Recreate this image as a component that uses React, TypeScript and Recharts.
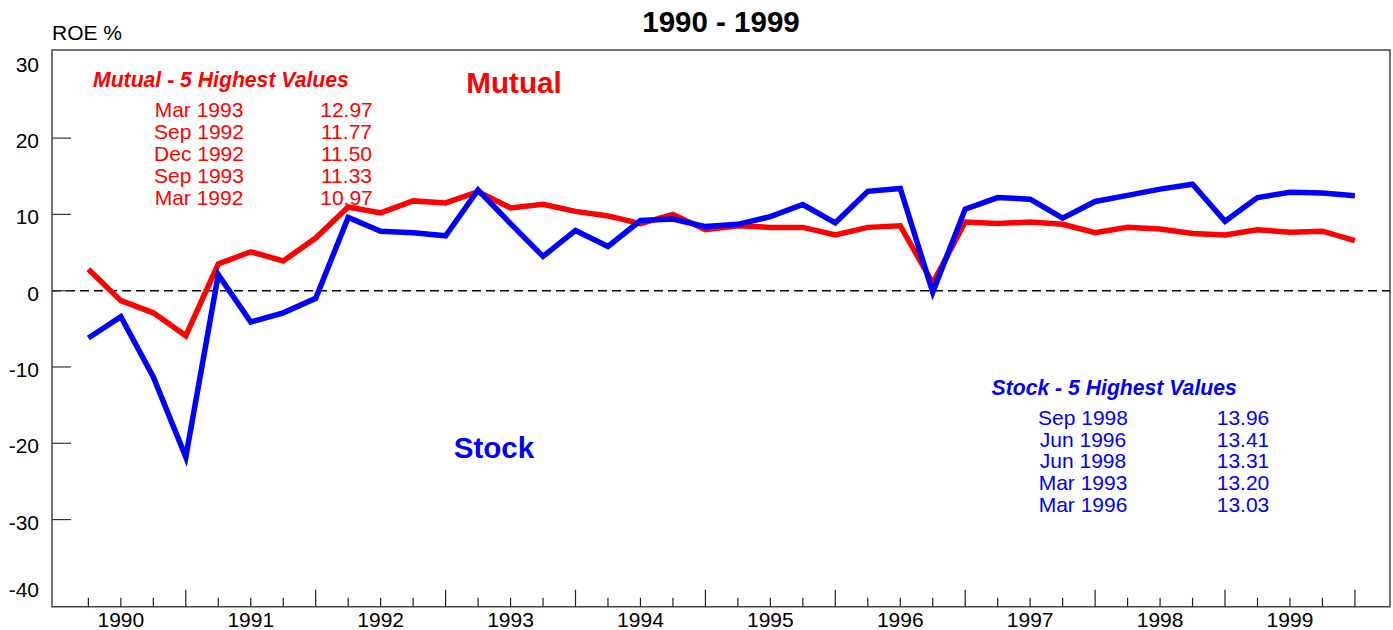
import { LineChart, Line, XAxis, YAxis, ReferenceLine, ReferenceArea } from 'recharts'

const quarters = [
  'Mar 1990', 'Jun 1990', 'Sep 1990', 'Dec 1990',
  'Mar 1991', 'Jun 1991', 'Sep 1991', 'Dec 1991',
  'Mar 1992', 'Jun 1992', 'Sep 1992', 'Dec 1992',
  'Mar 1993', 'Jun 1993', 'Sep 1993', 'Dec 1993',
  'Mar 1994', 'Jun 1994', 'Sep 1994', 'Dec 1994',
  'Mar 1995', 'Jun 1995', 'Sep 1995', 'Dec 1995',
  'Mar 1996', 'Jun 1996', 'Sep 1996', 'Dec 1996',
  'Mar 1997', 'Jun 1997', 'Sep 1997', 'Dec 1997',
  'Mar 1998', 'Jun 1998', 'Sep 1998', 'Dec 1998',
  'Mar 1999', 'Jun 1999', 'Sep 1999', 'Dec 1999',
]

const mutual = [
  2.8, -1.3, -2.9, -5.9, 3.5, 5.1, 3.9, 6.9,
  10.97, 10.2, 11.77, 11.5, 12.97, 10.85, 11.33, 10.4,
  9.8, 8.8, 10.0, 8.0, 8.5, 8.3, 8.3, 7.3,
  8.3, 8.5, 1.0, 9.0, 8.8, 9.0, 8.7, 7.6,
  8.3, 8.1, 7.5, 7.3, 8.0, 7.65, 7.8, 6.55,
]

const stock = [
  -6.2, -3.4, -11.3, -21.8, 2.1, -4.1, -2.9, -1.0,
  9.6, 7.8, 7.6, 7.2, 13.2, 8.8, 4.5, 7.9,
  5.8, 9.2, 9.4, 8.4, 8.7, 9.7, 11.3, 8.9,
  13.03, 13.41, -0.2, 10.7, 12.2, 12.0, 9.5, 11.7,
  12.5, 13.31, 13.96, 9.1, 12.2, 12.9, 12.8, 12.45,
]

const years = ['1990', '1991', '1992', '1993', '1994', '1995', '1996', '1997', '1998', '1999']
const yTicks = [-40, -30, -20, -10, 0, 10, 20, 30]

const mutualTop = [
  ['Mar 1993', '12.97'],
  ['Sep 1992', '11.77'],
  ['Dec 1992', '11.50'],
  ['Sep 1993', '11.33'],
  ['Mar 1992', '10.97'],
]
const stockTop = [
  ['Sep 1998', '13.96'],
  ['Jun 1996', '13.41'],
  ['Jun 1998', '13.31'],
  ['Mar 1993', '13.20'],
  ['Mar 1996', '13.03'],
]

const data = quarters.map((q, i) => ({ idx: i, quarter: q, mutual: mutual[i], stock: stock[i] }))

const X_MIN = -1.12
const X_MAX = 40.08
const Y_MIN = -41.42
const Y_MAX = 31.55
const FONT = '"Liberation Sans", Arial, sans-serif'

const XTick = (props: any) => {
  const { x, y, payload } = props
  const i = payload.value as number
  const long = i % 4 === 3
  return (
    <g>
      <line x1={x} x2={x} y1={y} y2={y - (long ? 17 : 9)} stroke="#222" strokeWidth={1.2} />
      {i % 4 === 1 && (
        <text x={x} y={y + 20} textAnchor="middle" fontSize={21} fill="#000" fontFamily={FONT}>
          {years[Math.floor(i / 4)]}
        </text>
      )}
    </g>
  )
}

const YTick = (props: any) => {
  const { x, y, payload } = props
  const v = payload.value as number
  const edge = v === 30 || v === -40
  return (
    <g>
      {!edge && <line x1={x} x2={x + 19} y1={y} y2={y} stroke="#333" strokeWidth={1.2} />}
      <text x={x - 13} y={v === -40 ? y + 1 : y + 10} textAnchor="end" fontSize={21} fill="#000" fontFamily={FONT}>
        {v}
      </text>
    </g>
  )
}

function TopList({ title, rows, color, x, y, dateX, valX, step }: any) {
  return (
    <g fill={color} fontFamily={FONT}>
      <text x={x} y={y} fontSize={21.2} fontWeight="bold" fontStyle="italic">{title}</text>
      {rows.map((r: string[], i: number) => (
        <g key={r[0]}>
          <text x={dateX} y={y + 30 + i * step} fontSize={21} textAnchor="middle">{r[0]}</text>
          <text x={valX} y={y + 30 + i * step} fontSize={21} textAnchor="middle">{r[1]}</text>
        </g>
      ))}
    </g>
  )
}

export default function App() {
  return (
    <div style={{ position: 'absolute', left: 0, top: 0, width: 1393, height: 630, background: '#fff', fontFamily: FONT }}>
      <LineChart width={1393} height={630} data={data} margin={{ top: 50, right: 3, bottom: 0, left: 0 }}>
        <XAxis
          type="number"
          dataKey="idx"
          domain={[X_MIN, X_MAX]}
          allowDataOverflow
          ticks={data.map((d) => d.idx)}
          interval={0}
          height={23.3}
          tickSize={0}
          tickMargin={0}
          axisLine={false}
          tickLine={false}
          tick={<XTick />}
        />
        <YAxis
          type="number"
          domain={[Y_MIN, Y_MAX]}
          allowDataOverflow
          ticks={yTicks}
          interval={0}
          width={52}
          tickSize={0}
          tickMargin={0}
          axisLine={false}
          tickLine={false}
          tick={<YTick />}
        />
        <ReferenceArea x1={X_MIN} x2={X_MAX} y1={Y_MIN} y2={Y_MAX} fill="none" stroke="#444" strokeWidth={1.5} />
        <ReferenceLine y={0} stroke="#000" strokeWidth={1.5} strokeDasharray="9 5" />
        <Line dataKey="mutual" stroke="#ff0000" strokeWidth={5.5} dot={false} isAnimationActive={false} />
        <Line dataKey="stock" stroke="#0000ff" strokeWidth={5.5} dot={false} isAnimationActive={false} />
      </LineChart>
      <svg width={1393} height={630} style={{ position: 'absolute', left: 0, top: 0, pointerEvents: 'none' }}>
        <text x={721} y={32} textAnchor="middle" fontSize={29.5} fontWeight="bold" fontFamily={FONT}>1990 - 1999</text>
        <text x={52} y={40} fontSize={21} fontFamily={FONT}>ROE %</text>
        <text x={514} y={93} textAnchor="middle" fontSize={29.6} fontWeight="bold" fill="#ff0000" fontFamily={FONT}>Mutual</text>
        <text x={494} y={458} textAnchor="middle" fontSize={29.6} fontWeight="bold" fill="#0000ff" fontFamily={FONT}>Stock</text>
        <TopList title="Mutual - 5 Highest Values" rows={mutualTop} color="#ff0000" x={93} y={87.3} dateX={199} valX={346.5} step={22} />
        <TopList title="Stock - 5 Highest Values" rows={stockTop} color="#0000ff" x={991.5} y={395} dateX={1083} valX={1243} step={21.7} />
      </svg>
    </div>
  )
}
